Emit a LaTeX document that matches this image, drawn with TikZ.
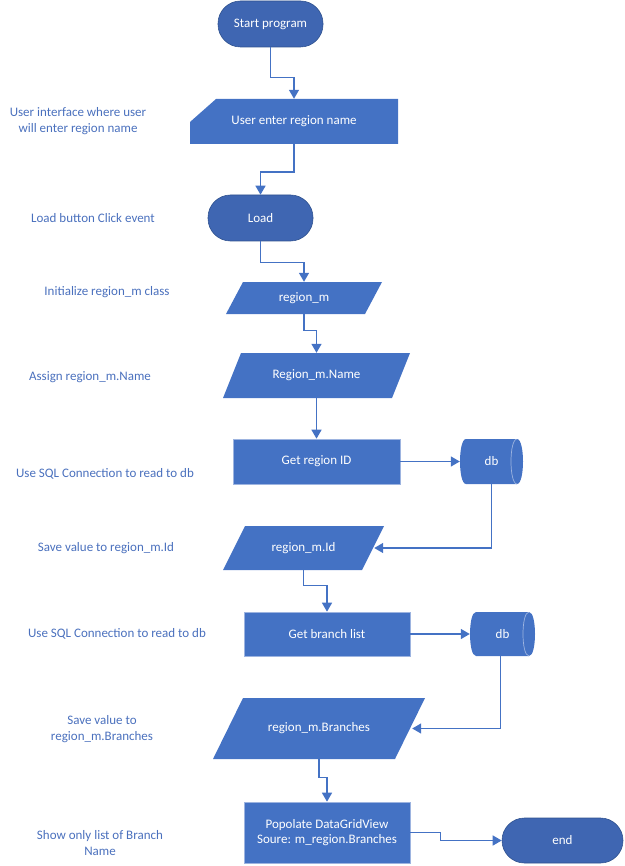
\documentclass[tikz,border=0pt]{standalone}
\usepackage{fontspec}
\setmainfont{Carlito}
\usetikzlibrary{arrows.meta}
\definecolor{mblue}{HTML}{4472C4}
\definecolor{tblue}{HTML}{3F66B2}
\definecolor{tedge}{HTML}{2F528F}
\definecolor{ledge}{HTML}{9DB4E0}
\definecolor{lblue}{HTML}{4A70BD}
\tikzset{
  every node/.style={font=\fontsize{13}{15.5}\selectfont},
  term/.style={rectangle, rounded corners=22.5pt, fill=tblue, draw=tedge, line width=0.6pt, text=white, inner sep=0pt},
  proc/.style={rectangle, fill=mblue, draw=ledge, line width=0.6pt, text=white, inner sep=0pt, align=center},
  para/.style={rectangle, inner sep=0pt, text=white, path picture={
      \fill[mblue] ([xshift=#1]path picture bounding box.north west) -- (path picture bounding box.north east)
        -- ([xshift=-#1]path picture bounding box.south east) -- (path picture bounding box.south west) -- cycle;}},
  manual/.style={rectangle, inner sep=0pt, text=white, path picture={
      \fill[mblue] ([yshift=22pt]path picture bounding box.south west) -- ([xshift=26pt]path picture bounding box.north west)
        -- (path picture bounding box.north east) -- (path picture bounding box.south east)
        -- (path picture bounding box.south west) -- cycle;}},
  dbase/.style={rectangle, inner sep=0pt, text=white, path picture={
      \fill[mblue] ([xshift=6pt]path picture bounding box.north west) -- ([xshift=-6pt]path picture bounding box.north east)
        .. controls ([xshift=2pt]path picture bounding box.north east) and ([xshift=2pt]path picture bounding box.south east)
        .. ([xshift=-6pt]path picture bounding box.south east) -- ([xshift=6pt]path picture bounding box.south west)
        .. controls ([xshift=-2pt]path picture bounding box.south west) and ([xshift=-2pt]path picture bounding box.north west)
        .. cycle;
      \draw[ledge, line width=0.7pt] ([xshift=-6pt]path picture bounding box.north east)
        .. controls ([xshift=-14pt]path picture bounding box.north east) and ([xshift=-14pt]path picture bounding box.south east)
        .. ([xshift=-6pt]path picture bounding box.south east);}},
  note/.style={text=lblue, align=center, inner sep=0pt},
  arr/.style={draw=mblue, line width=1.4pt, -{Triangle[length=9pt,width=10pt]}}
}
\begin{document}
\begin{tikzpicture}[x=1pt,y=-1pt]
\useasboundingbox (0,0) rectangle (624,866);
% shapes
\node[term, minimum width=105pt, minimum height=46pt] (start) at (270.5,24) {Start program};
\node[manual, minimum width=208pt, minimum height=45pt] (ui) at (294,121.5) {User enter region name};
\node[term, minimum width=105pt, minimum height=46pt] (load) at (260.5,218) {Load};
\node[para=17pt, minimum width=156pt, minimum height=32pt] (rm) at (304,298) {region\_m};
\node[para=18pt, minimum width=187pt, minimum height=45pt] (rmn) at (316.5,375.5) {Region\_m.Name};
\node[proc, minimum width=167pt, minimum height=45pt] (gid) at (316.5,461.5) {Get region ID};
\node[dbase, minimum width=63pt, minimum height=45pt] (db1) at (491.5,461.5) {db};
\node[para=22pt, minimum width=161pt, minimum height=44pt] (rid) at (303.5,548) {region\_m.Id};
\node[proc, minimum width=166pt, minimum height=44pt] (gbl) at (327,634) {Get branch list};
\node[dbase, minimum width=65pt, minimum height=44pt] (db2) at (502.5,634) {db};
\node[para=30pt, minimum width=212pt, minimum height=61pt] (rmb) at (319,728.5) {region\_m.Branches};
\node[proc, minimum width=166pt, minimum height=61pt] (pop) at (327,832.5) {Popolate DataGridView\\Soure: m\_region.Branches};
\node[term, minimum width=121pt, minimum height=45pt] (end) at (562.5,840.5) {end};
% notes
\node[note] (n1) at (78,121) {User interface where user\\will enter region name};
\node[note] (n2) at (93,218) {Load button Click event};
\node[note] (n3) at (107,292) {Initialize region\_m class};
\node[note] (n4) at (90,377) {Assign region\_m.Name};
\node[note] (n5) at (105,474) {Use SQL Connection to read to db};
\node[note] (n6) at (106,548) {Save value to region\_m.Id};
\node[note] (n7) at (117,634) {Use SQL Connection to read to db};
\node[note] (n8) at (102,729) {Save value to\\region\_m.Branches};
\node[note] (n9) at (100,843) {Show only list of Branch\\Name};
% connectors
\draw[arr] (start.south) -- ++(0,30) -| (ui.north);
\draw[arr] (ui.south) -- ++(0,28) -| (load.north);
\draw[arr] (load.south) -- ++(0,21) -| (rm.north);
\draw[arr] (rm.south) -- ++(0,16) -| (rmn.north);
\draw[arr] (rmn.south) -- (gid.north);
\draw[arr] (gid.east) -- (db1.west);
\draw[arr] (db1.south) |- ([xshift=-10pt]rid.east);
\draw[arr] (rid.south) -- ++(0,15) -| (gbl.north);
\draw[arr] (gbl.east) -- (db2.west);
\draw[arr] ([xshift=-2pt]db2.south) |- ([xshift=-13pt]rmb.east);
\draw[arr] (rmb.south) -- ++(0,18) -| (pop.north);
\draw[arr] (pop.east) -- ++(30,0) |- (end.west);
\end{tikzpicture}
\end{document}
